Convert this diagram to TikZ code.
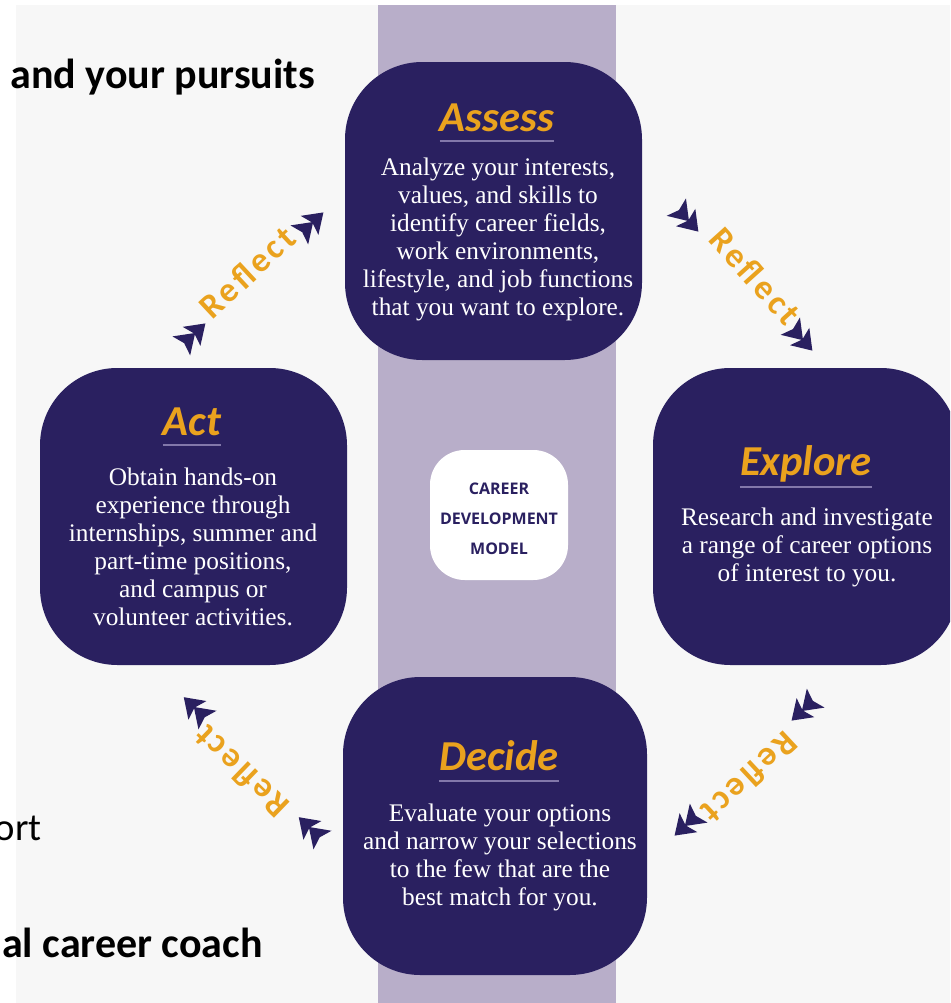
\documentclass[tikz,border=0pt]{standalone}
\usepackage{fontspec}
\setmainfont{Liberation Serif}
\newfontfamily\calfont{Carlito}
\newfontfamily\reflfont[LetterSpace=10]{Carlito}
\newfontfamily\capfont{Open Sans}
\usepackage{xcolor}
\usepackage{tikz}
\usetikzlibrary{calc}

\definecolor{navy}{RGB}{42,32,96}
\definecolor{amber}{RGB}{234,162,30}
\definecolor{lilac}{RGB}{184,174,201}
\definecolor{paper}{RGB}{247,247,247}
\definecolor{rulecol}{RGB}{130,120,170}

\tikzset{
  stage/.style={fill=navy, rounded corners=58pt},
  stagetitle/.style={font=\calfont\bfseries\itshape\fontsize{32}{36}\selectfont, text=amber, inner sep=0pt, anchor=base},
  stagetext/.style={font=\fontsize{19}{21}\selectfont, text=white, align=center, inner sep=0pt},
  uline/.style={draw=rulecol, line width=1.1pt},
  reflect/.style={font=\reflfont\bfseries\fontsize{26}{30}\selectfont, text=amber, inner sep=0pt},
  sidebold/.style={font=\calfont\bfseries\fontsize{31.5}{36}\selectfont, text=black, inner sep=0pt},
  sidereg/.style={font=\calfont\fontsize{29}{34}\selectfont, text=black, inner sep=0pt},
  model/.style={font=\capfont\bfseries\fontsize{12}{22.5}\selectfont, text=navy, align=center, inner sep=0pt},
  dchev/.pic={
    \foreach \o in {-7,7}
      \fill[navy] (\o+10,0) -- (\o-9,-13) -- (\o-5,0) -- (\o-9,13) -- cycle;
  }
}

\begin{document}
\begin{tikzpicture}[x=0.75pt,y=0.75pt,yscale=-1,xscale=1]
\useasboundingbox (0,0) rectangle (950,1003);
\clip (0,0) rectangle (950,1003);

%Background and centre band
\fill[paper] (16,5) rectangle (950,1003);
\fill[lilac] (378,5) rectangle (616,1003);

% Side text
\node[sidebold, anchor=base west] (pursuits) at (10,88) {and your pursuits};
\node[sidereg, anchor=base east] (support) at (42,840) {ort};
\node[sidebold, anchor=base east] (coach) at (263,957) {al career coach};

%Stage boxes
\fill[stage] (345,62) rectangle (642,360);
\fill[stage] (40,368) rectangle (347,665);
\fill[stage] (653,368) rectangle (958,665);
\fill[stage] (343,677) rectangle (647,975);

%Centre label
\fill[white, rounded corners=26pt] (430,450) rectangle (568,580);
\node[model] (model) at (499,519) {CAREER\\DEVELOPMENT\\MODEL};

% Assess
\node[stagetitle] (assessT) at (497,131) {Assess};
\draw[uline] ($(assessT.base west)+(0,10)$) -- ($(assessT.base east)+(0,10)$);
\node[stagetext] (assessB) at (498,239) {Analyze your interests,\\values, and skills to\\identify career fields,\\work environments,\\lifestyle, and job functions\\that you want to explore.};

% Act
\node[stagetitle] (actT) at (192,435) {Act};
\draw[uline] ($(actT.base west)+(0,10)$) -- ($(actT.base east)+(0,10)$);
\node[stagetext] (actB) at (193,547) {Obtain hands-on\\experience through\\internships, summer and\\part-time positions,\\and campus or\\volunteer activities.};

% Explore
\node[stagetitle] (exploreT) at (806,475) {Explore};
\draw[uline] ($(exploreT.base west)+(0,12)$) -- ($(exploreT.base east)+(0,12)$);
\node[stagetext] (exploreB) at (807,547) {Research and investigate\\a range of career options\\of interest to you.};

% Decide
\node[stagetitle] (decideT) at (499,770) {Decide};
\draw[uline] ($(decideT.base west)+(0,11)$) -- ($(decideT.base east)+(0,11)$);
\node[stagetext] (decideB) at (500,857) {Evaluate your options\\and narrow your selections\\to the few that are the\\best match for you.};

% Reflect labels
\node[reflect, rotate=43] (reflTL) at (247,272) {Reflect};
\node[reflect, rotate=-48] (reflTR) at (755,276) {Reflect};
\node[reflect, rotate=136] (reflBL) at (241,772) {Reflect};
\node[reflect, rotate=-137] (reflBR) at (750,778) {Reflect};

% Chevrons
\pic[rotate=43] at (193,335) {dchev};
\pic[rotate=43] at (311,224) {dchev};
\pic[rotate=-48] at (687,219) {dchev};
\pic[rotate=-48] at (801,338) {dchev};
\pic[rotate=136] at (196,709) {dchev};
\pic[rotate=136] at (311,829) {dchev};
\pic[rotate=-137] at (804,709) {dchev};
\pic[rotate=-137] at (687,824) {dchev};

\end{tikzpicture}
\end{document}
